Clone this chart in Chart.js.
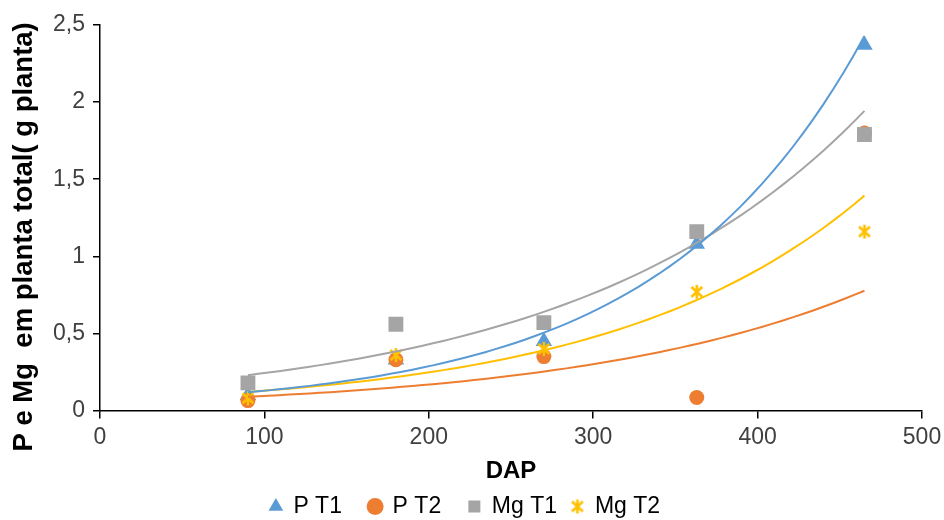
<!DOCTYPE html>
<html>
<head>
<meta charset="utf-8">
<script src="https://cdn.jsdelivr.net/npm/chart.js@4"></script>
<style>
  html, body { margin: 0; padding: 0; background: #fff; }
  #wrap { width: 944px; height: 520px; }
</style>
</head>
<body>
<div id="wrap"><canvas id="myChart"></canvas></div>
<script>
// DAP (dias apos plantio)
const dap = [90, 180, 270, 363, 465];

const pT1 = [0.10, 0.33, 0.45, 1.08, 2.37];
const pT2 = [0.065, 0.33, 0.35, 0.085, 1.80];
const mgT1 = [0.18, 0.56, 0.57, 1.16, 1.79];
const mgT2 = [0.08, 0.36, 0.40, 0.77, 1.16];

const seriesNames = ["P T1", "P T2", "Mg T1", "Mg T2"];
const seriesColors = ["#5B9BD5", "#ED7D31", "#A5A5A5", "#FFC000"];

const yTicks = [0, 0.5, 1, 1.5, 2, 2.5];

// asterisco como o marcador do Excel
function makeStar(color) {
    var c = document.createElement("canvas");
    c.width = 16; c.height = 16;
    var g = c.getContext("2d");
    g.strokeStyle = color;
    g.lineWidth = 2.6;
    g.beginPath();
    g.moveTo(8, 1); g.lineTo(8, 15);
    g.moveTo(2.5, 3); g.lineTo(13.5, 13);
    g.moveTo(13.5, 3); g.lineTo(2.5, 13);
    g.stroke();
    return c;
}

// linha de tendencia exponencial (minimos quadrados em ln y), igual ao Excel
function expTrend(xs, ys) {
    var n = xs.length;
    var mx = 0, my = 0;
    for (var i = 0; i < n; i++) { mx += xs[i]; my += Math.log(ys[i]); }
    mx /= n; my /= n;
    var sxy = 0, sxx = 0;
    for (var i = 0; i < n; i++) {
        sxy += (xs[i] - mx) * (Math.log(ys[i]) - my);
        sxx += (xs[i] - mx) * (xs[i] - mx);
    }
    var b = sxy / sxx;
    var a = Math.exp(my - b * mx);
    var pts = [];
    var x0 = xs[0], x1 = xs[n - 1];
    for (var k = 0; k <= 60; k++) {
        var x = x0 + (x1 - x0) * k / 60;
        pts.push({ x: x, y: a * Math.exp(b * x) });
    }
    return pts;
}

const allSeries = [pT1, pT2, mgT1, mgT2];
const markers = ["triangle", "circle", "rect", makeStar("#FFC000")];
const radii = [9.5, 7.5, 10.5, 8];
// espacos depois do texto da legenda
const legendGaps = ["   ", "   ", " ", ""];

var datasets = [];
allSeries.forEach(function (vals, i) {
    datasets.push({
        label: seriesNames[i],
        data: dap.map(function (x, j) { return { x: x, y: vals[j] }; }),
        showLine: false,
        pointStyle: markers[i],
        pointRadius: radii[i],
        pointHoverRadius: radii[i],
        backgroundColor: seriesColors[i],
        borderColor: seriesColors[i],
        borderWidth: 0,
        order: 4 - i
    });
});
allSeries.forEach(function (vals, i) {
    datasets.push({
        label: "trend " + seriesNames[i],
        data: expTrend(dap, vals),
        showLine: true,
        pointRadius: 0,
        borderColor: seriesColors[i],
        borderWidth: 2,
        fill: false,
        order: 0
    });
});

Chart.defaults.font.family = "'Liberation Sans', Arial, sans-serif";
Chart.defaults.color = "#404040";

var fmt = function (v) { return String(v).replace(".", ","); };

new Chart(document.getElementById("myChart"), {
    type: "scatter",
    data: { datasets: datasets },
    options: {
        responsive: true,
        maintainAspectRatio: false,
        animation: false,
        layout: { padding: { top: 25, right: 22, left: 8, bottom: -8 } },
        plugins: {
            tooltip: { enabled: false },
            legend: {
                position: "bottom",
                labels: {
                    usePointStyle: true,
                    boxWidth: 12,
                    boxHeight: 12,
                    padding: 8,
                    color: "#000",
                    font: { size: 23 },
                    sort: function (a, b) { return a.datasetIndex - b.datasetIndex; },
                    filter: function (item) { return item.text.indexOf("trend") !== 0; },
                    generateLabels: function (chart) {
                        var items = Chart.defaults.plugins.legend.labels.generateLabels(chart);
                        items.forEach(function (it) {
                            if (it.datasetIndex < 4) it.text = it.text + legendGaps[it.datasetIndex];
                        });
                        return items;
                    }
                }
            }
        },
        scales: {
            x: {
                type: "linear",
                min: 0,
                max: 500,
                afterFit: function (s) { s.paddingRight = 0; },
                ticks: { stepSize: 100, font: { size: 23 }, color: "#404040", padding: 5, callback: fmt },
                grid: { drawOnChartArea: false, drawTicks: true, tickLength: 8, color: "#000", lineWidth: 1.5 },
                border: { color: "#000", width: 1.5 },
                title: { display: true, text: "DAP", font: { size: 24, weight: "bold" }, color: "#000", padding: { top: 1, bottom: 1 } }
            },
            y: {
                type: "linear",
                min: 0,
                max: 2.5,
                afterBuildTicks: function (axis) { axis.ticks = yTicks.map(function (v) { return { value: v }; }); },
                ticks: { font: { size: 23 }, color: "#404040", padding: 8, callback: fmt },
                grid: { drawOnChartArea: false, drawTicks: true, tickLength: 7, color: "#000", lineWidth: 1.5 },
                border: { color: "#000", width: 1.5 },
                title: { display: true, text: "P e Mg  em planta total( g planta)     ", font: { size: 27.5, weight: "bold" }, color: "#000", padding: { top: 0, bottom: 4 } }
            }
        }
    }
});
</script>
</body>
</html>
